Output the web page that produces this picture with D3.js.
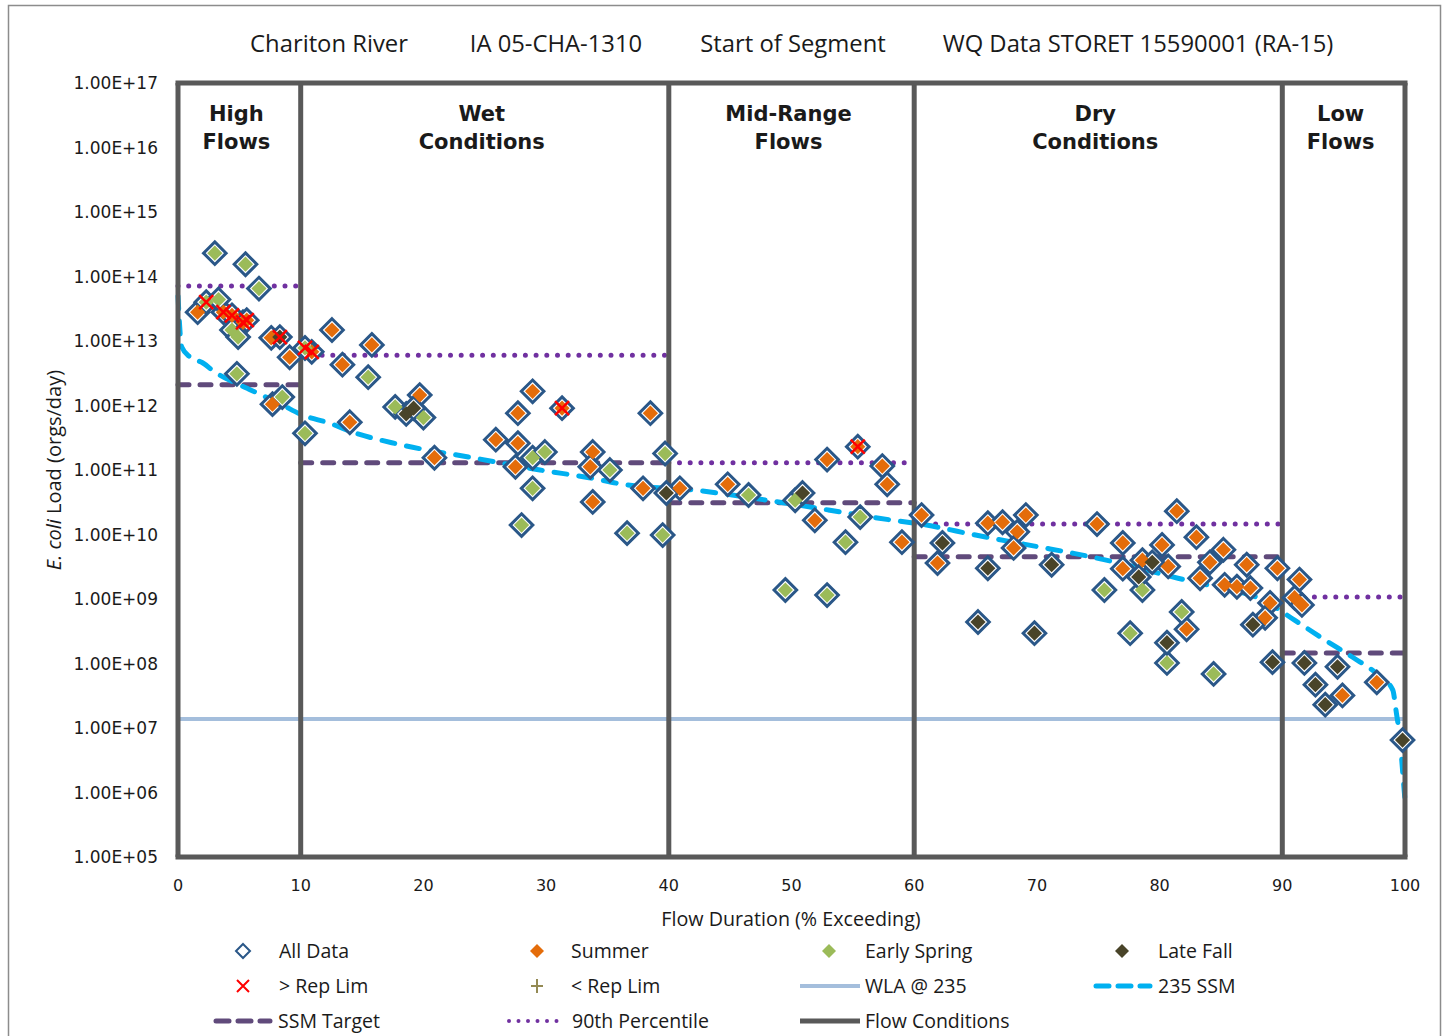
<!DOCTYPE html>
<html><head><meta charset="utf-8">
<script src="https://cdn.jsdelivr.net/npm/d3@7"></script>
<style>body{margin:0;background:#fff} svg{display:block}</style>
</head><body><svg id="c" width="1450" height="1036"></svg>
<script>
// ---------------- DATA ----------------
const titleParts = ["Chariton River", "IA 05-CHA-1310", "Start of Segment", "WQ Data STORET 15590001 (RA-15)"];
const zoneLabels = [["High", "Flows"], ["Wet", "Conditions"], ["Mid-Range", "Flows"], ["Dry", "Conditions"], ["Low", "Flows"]];
const flowBounds = [0, 10, 40, 60, 90, 100];
const xTicks = [0, 10, 20, 30, 40, 50, 60, 70, 80, 90, 100];
const yTicks = [1e5, 1e6, 1e7, 1e8, 1e9, 1e10, 1e11, 1e12, 1e13, 1e14, 1e15, 1e16, 1e17];

const summerX = [1.6, 3.7, 4.4, 5.3, 5.6, 7.6, 9.1, 7.7, 10.9, 12.55, 13.4, 15.8, 14.0, 19.7, 20.9, 28.9, 27.7, 31.3, 25.9, 27.7, 27.5, 33.8, 33.6, 33.8, 38.5, 37.9, 40.9, 44.8, 51.9, 52.9, 55.4, 57.4, 57.8, 59.0, 60.6, 61.9, 66.0, 67.2, 69.1, 68.4, 68.1, 74.9, 77.0, 77.0, 78.6, 80.2, 80.7, 81.4, 83.0, 83.3, 84.1, 85.2, 85.3, 86.3, 87.1, 87.4, 89.6, 89.0, 88.6, 82.2, 91.4, 91.0, 91.6, 94.9, 97.7];
const summerY = [2.8e13, 2.8e13, 2.5e13, 1.95e13, 2.1e13, 1.12e13, 5.6e12, 1.05e12, 6.8e12, 1.48e13, 4.3e12, 8.7e12, 5.5e11, 1.45e12, 1.55e11, 1.66e12, 7.6e11, 9.1e11, 2.95e11, 2.6e11, 1.12e11, 1.9e11, 1.12e11, 3.2e10, 7.6e11, 5.2e10, 5.2e10, 6.0e10, 1.66e10, 1.45e11, 2.3e11, 1.15e11, 6.0e10, 7.6e9, 2.0e10, 3.6e9, 1.5e10, 1.55e10, 2.0e10, 1.1e10, 6.2e9, 1.45e10, 7.4e9, 2.95e9, 4.0e9, 6.9e9, 3.2e9, 2.3e10, 9.1e9, 2.1e9, 3.7e9, 5.8e9, 1.66e9, 1.55e9, 3.4e9, 1.48e9, 3.0e9, 8.7e8, 5.1e8, 3.4e8, 2.0e9, 1.05e9, 8.1e8, 3.2e7, 5.1e7];

const springX = [3.0, 5.5, 6.6, 2.3, 3.3, 4.4, 4.9, 4.8, 8.5, 10.35, 15.5, 10.35, 17.7, 20.0, 28.9, 29.9, 28.9, 28.0, 35.2, 36.6, 39.7, 39.5, 46.5, 50.3, 49.5, 52.9, 55.6, 54.4, 75.5, 77.6, 78.6, 81.8, 80.6, 84.4];
const springY = [2.3e14, 1.55e14, 6.5e13, 4.0e13, 4.4e13, 1.48e13, 1.15e13, 3.1e12, 1.35e12, 7.8e12, 2.75e12, 3.7e11, 9.5e11, 6.5e11, 1.55e11, 1.9e11, 5.2e10, 1.4e10, 1.0e11, 1.05e10, 1.8e11, 9.8e9, 4.1e10, 3.4e10, 1.38e9, 1.15e9, 1.86e10, 7.6e9, 1.38e9, 2.95e8, 1.38e9, 6.3e8, 1.02e8, 6.9e7];

const fallX = [8.3, 18.6, 19.2, 39.8, 50.9, 62.3, 66.0, 71.2, 65.2, 69.8, 78.3, 79.4, 80.6, 87.6, 89.2, 91.8, 94.5, 92.7, 93.5, 99.8];
const fallY = [1.15e13, 7.4e11, 9.1e11, 4.4e10, 4.4e10, 7.4e9, 3.0e9, 3.4e9, 4.4e8, 2.95e8, 2.2e9, 3.7e9, 2.1e8, 4.0e8, 1.05e8, 1.02e8, 8.9e7, 4.7e7, 2.3e7, 6.5e6];

const repLimX = [2.3, 3.7, 4.4, 5.3, 5.6, 8.3, 10.35, 10.9, 31.3, 55.4];
const repLimY = [4.0e13, 2.8e13, 2.5e13, 1.95e13, 2.1e13, 1.15e13, 7.8e12, 6.8e12, 9.1e11, 2.3e11];

const wlaValue = 1.38e7;

const ssmX = [0, 0.3, 1, 2, 3, 5, 7, 8.5, 10, 12.5, 14, 18, 24, 29.5, 33.5, 36.5, 42, 48, 53, 57, 61, 65, 70, 73, 77, 81.5, 84.5, 88.5, 91, 93.5, 95.7, 98, 99, 99.3, 99.6, 99.8, 100];
const ssmY = [5e13, 8.1e12, 5.6e12, 4.6e12, 3.3e12, 2.1e12, 1.4e12, 1.02e12, 7.3e11, 5.2e11, 4.0e11, 2.5e11, 1.55e11, 1.0e11, 7.6e10, 5.9e10, 4.9e10, 3.4e10, 2.4e10, 1.8e10, 1.4e10, 9.8e9, 6.5e9, 5.1e9, 3.5e9, 2.1e9, 1.55e9, 9.5e8, 4.7e8, 2.3e8, 1.26e8, 6.2e7, 3.9e7, 1.7e7, 6.5e6, 2.2e6, 7.6e5];

const ssmTarget = [2.1e12, 1.29e11, 3.1e10, 4.5e9, 1.45e8];     // per flow zone
const pct90 = [7.1e13, 6.0e12, 1.29e11, 1.45e10, 1.07e9];        // per flow zone

const legendItems = [
  ["All Data", "alldata"], ["Summer", "summer"], ["Early Spring", "spring"], ["Late Fall", "fall"],
  ["> Rep Lim", "xmark"], ["< Rep Lim", "plus"], ["WLA @ 235", "wla"], ["235 SSM", "ssm"],
  ["SSM Target", "target"], ["90th Percentile", "pct"], ["Flow Conditions", "flow"]
];

// ---------------- LAYOUT / STYLE ----------------
const C = {
  blue: "#2a5788", summer: "#e46c0a", spring: "#9bbb59", fall: "#494429",
  red: "#ff0000", plus: "#948a54", wla: "#a4bedc", ssm: "#00b0f0",
  target: "#604a7b", pct: "#7030a0", flow: "#595959", text: "#1a1a1a"
};
const svg = d3.select("#c");
const x = d3.scaleLinear().domain([0, 100]).range([178, 1405]);
const y = d3.scaleLog().domain([1e5, 1e17]).range([857, 83]);

// outer chart border
svg.append("rect").attr("x", 8.5).attr("y", 5.5).attr("width", 1432).attr("height", 1040)
  .attr("fill", "none").attr("stroke", "#8c8c8c").attr("stroke-width", 1.5);

// title
const titleX = [329, 556, 793, 1138];
svg.selectAll(".ttl").data(titleParts).join("text")
  .attr("x", (d, i) => titleX[i]).attr("y", 52).attr("text-anchor", "middle")
  .attr("font-family", "Open Sans").attr("font-size", 23.8).attr("fill", C.text).text(d => d);

// y tick labels
svg.selectAll(".yt").data(yTicks).join("text")
  .attr("x", 158).attr("y", d => y(d) + 6).attr("text-anchor", "end")
  .attr("font-family", "DejaVu Sans").attr("font-size", 17).attr("fill", C.text)
  .text(d => "1.00E+" + String(Math.round(Math.log10(d))).padStart(2, "0"));

// x tick labels
svg.selectAll(".xt").data(xTicks).join("text")
  .attr("x", d => x(d)).attr("y", 891).attr("text-anchor", "middle")
  .attr("font-family", "DejaVu Sans").attr("font-size", 16).attr("fill", C.text).text(d => d);

// axis titles
svg.append("text").attr("x", 791).attr("y", 926).attr("text-anchor", "middle")
  .attr("font-family", "Open Sans").attr("font-size", 19.7).attr("fill", C.text).text("Flow Duration (% Exceeding)");
const yt = svg.append("text").attr("transform", "translate(61,470) rotate(-90)").attr("text-anchor", "middle")
  .attr("font-family", "Open Sans").attr("font-size", 20).attr("fill", C.text);
yt.append("tspan").attr("font-style", "italic").text("E. coli");
yt.append("tspan").text(" Load (orgs/day)");

// lines
const line = d3.line().x(d => x(d[0])).y(d => y(d[1]));
const plot = svg.append("g");

// WLA
plot.append("path").attr("d", line([[0, wlaValue], [100, wlaValue]]))
  .attr("stroke", C.wla).attr("stroke-width", 4).attr("fill", "none");

// SSM target (dashed) and 90th percentile (dotted)
const zones = d3.range(5).map(i => [flowBounds[i], flowBounds[i + 1]]);
zones.forEach((z, i) => {
  plot.append("path").attr("d", line([[z[0], ssmTarget[i]], [z[1], ssmTarget[i]]]))
    .attr("stroke", C.target).attr("stroke-width", 5).attr("fill", "none")
    .attr("stroke-dasharray", "11,11").attr("stroke-linecap", "round");
  plot.append("path").attr("d", line([[z[0], pct90[i]], [z[1], pct90[i]]]))
    .attr("stroke", C.pct).attr("stroke-width", 5).attr("fill", "none")
    .attr("stroke-dasharray", "0,10.7").attr("stroke-linecap", "round");
});

// 235 SSM curve
const ssmLine = d3.line().x(d => x(d[0])).y(d => y(d[1])).curve(d3.curveMonotoneX);
plot.append("path").attr("d", ssmLine(ssmX.map((v, i) => [v, ssmY[i]])))
  .attr("stroke", C.ssm).attr("stroke-width", 5).attr("fill", "none")
  .attr("stroke-dasharray", "13,12").attr("stroke-linecap", "round");

// flow conditions frame
flowBounds.forEach(b => {
  plot.append("path").attr("d", line([[b, 1e5], [b, 1e17]]))
    .attr("stroke", C.flow).attr("stroke-width", 5).attr("fill", "none");
});
[1e5, 1e17].forEach(v => {
  plot.append("path").attr("d", line([[0, v], [100, v]]))
    .attr("stroke", C.flow).attr("stroke-width", 5).attr("fill", "none").attr("stroke-linecap", "square");
});

// zone labels
zones.forEach((z, i) => {
  const cx = x((z[0] + z[1]) / 2) - 3;
  zoneLabels[i].forEach((t, j) => {
    svg.append("text").attr("x", cx).attr("y", 121 + j * 28).attr("text-anchor", "middle")
      .attr("font-family", "DejaVu Sans").attr("font-weight", "bold").attr("font-size", 21)
      .attr("fill", C.text).text(t);
  });
});

// markers
const diamond = r => `M0,${-r}L${r},0L0,${r}L${-r},0Z`;
const allPts = [].concat(
  summerX.map((v, i) => [v, summerY[i]]),
  springX.map((v, i) => [v, springY[i]]),
  fallX.map((v, i) => [v, fallY[i]])
);
plot.selectAll(".all").data(allPts).join("path")
  .attr("d", diamond(11.3)).attr("transform", d => `translate(${x(d[0])},${y(d[1])})`)
  .attr("fill", "#fff").attr("stroke", C.blue).attr("stroke-width", 3);

function seasonal(xs, ys, color) {
  plot.append("g").selectAll("path").data(xs.map((v, i) => [v, ys[i]])).join("path")
    .attr("d", diamond(7.6)).attr("transform", d => `translate(${x(d[0])},${y(d[1])})`)
    .attr("fill", color);
}
seasonal(summerX, summerY, C.summer);
seasonal(springX, springY, C.spring);
seasonal(fallX, fallY, C.fall);

const xPath = s => `M${-s},${-s}L${s},${s}M${-s},${s}L${s},${-s}`;
plot.selectAll(".rl").data(repLimX.map((v, i) => [v, repLimY[i]])).join("path")
  .attr("d", xPath(7)).attr("transform", d => `translate(${x(d[0])},${y(d[1])})`)
  .attr("stroke", C.red).attr("stroke-width", 2.5).attr("fill", "none");

// legend
const colMarker = [243, 537, 829, 1122], colText = [279, 571, 865, 1158];
const lineCols = [[213, 273], [507, 567], [800, 860], [1093, 1153]];
const rowY = [951, 986, 1021];
const lg = svg.append("g");
legendItems.forEach((it, k) => {
  const r = Math.floor(k / 4), c = k % 4, cy = rowY[r];
  const type = it[1];
  let tx = colText[c];
  const mx = colMarker[c];
  if (type === "alldata") {
    lg.append("path").attr("d", diamond(7)).attr("transform", `translate(${mx},${cy})`)
      .attr("fill", "#fff").attr("stroke", C.blue).attr("stroke-width", 2);
  } else if (type === "summer" || type === "spring" || type === "fall") {
    lg.append("path").attr("d", diamond(7)).attr("transform", `translate(${mx},${cy})`)
      .attr("fill", C[type]);
  } else if (type === "xmark") {
    lg.append("path").attr("d", xPath(6)).attr("transform", `translate(${mx},${cy})`)
      .attr("stroke", C.red).attr("stroke-width", 2).attr("fill", "none");
  } else if (type === "plus") {
    lg.append("path").attr("d", "M-6,0L6,0M0,-7L0,7").attr("transform", `translate(${mx},${cy})`)
      .attr("stroke", C.plus).attr("stroke-width", 2).attr("fill", "none");
  } else {
    const [x0, x1] = lineCols[c];
    tx = x1 + 5;
    const p = lg.append("path").attr("d", `M${x0},${cy}L${x1},${cy}`).attr("fill", "none");
    if (type === "wla") p.attr("stroke", C.wla).attr("stroke-width", 4);
    if (type === "flow") p.attr("stroke", C.flow).attr("stroke-width", 5);
    if (type === "ssm") p.attr("stroke", C.ssm).attr("stroke-width", 5).attr("stroke-dasharray", "13,9").attr("stroke-linecap", "round").attr("d", `M${x0 + 3},${cy}L${x1 - 3},${cy}`);
    if (type === "target") p.attr("stroke", C.target).attr("stroke-width", 5).attr("stroke-dasharray", "13,9").attr("stroke-linecap", "round").attr("d", `M${x0 + 3},${cy}L${x1 - 3},${cy}`);
    if (type === "pct") p.attr("stroke", C.pct).attr("stroke-width", 4).attr("stroke-dasharray", "0,9.5").attr("stroke-linecap", "round").attr("d", `M${x0 + 2},${cy}L${x1 - 2},${cy}`);
  }
  lg.append("text").attr("x", tx).attr("y", cy + 6.5).attr("font-family", "Open Sans")
    .attr("font-size", 19.5).attr("fill", C.text).text(it[0]);
});
</script>
</body></html>
